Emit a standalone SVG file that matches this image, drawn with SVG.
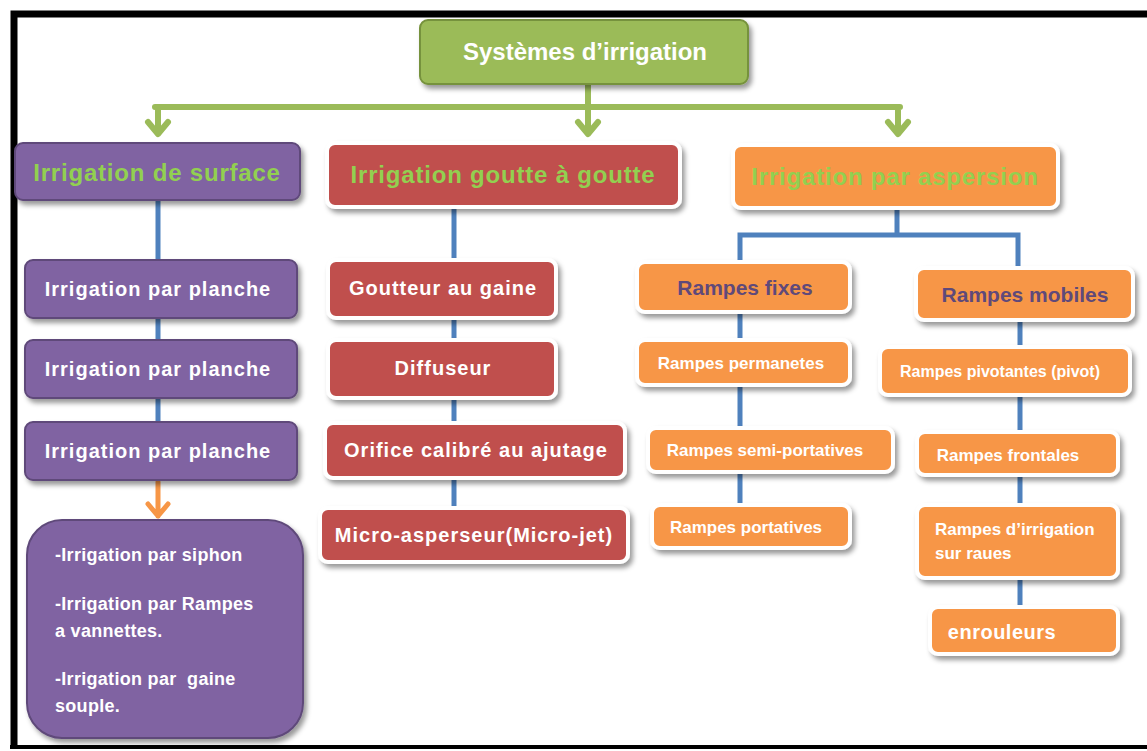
<svg xmlns="http://www.w3.org/2000/svg" width="1147" height="751" viewBox="0 0 1147 751">
<defs>
<filter id="sh" x="-10%" y="-20%" width="130%" height="150%">
<feDropShadow dx="3" dy="4" stdDeviation="2.5" flood-color="#000" flood-opacity="0.4"/>
</filter>
</defs>
<style>
text{font-family:"Liberation Sans",Arial,sans-serif;font-weight:bold;text-anchor:middle;}
.pu rect{fill:#8064a2;stroke:#5f497a;stroke-width:2;filter:url(#sh);}
.re rect{fill:#c0504d;stroke:#fff;stroke-width:4;filter:url(#sh);}
.or rect{fill:#f79646;stroke:#fff;stroke-width:4;filter:url(#sh);}
.gr rect{fill:#9bbb59;stroke:#76923c;stroke-width:2;filter:url(#sh);}
.w{fill:#fff;font-size:20px;letter-spacing:1px;}
.ws{fill:#fff;font-size:17px;}
.wl{fill:#fff;font-size:18px;letter-spacing:0.3px;text-anchor:start;}
.h{fill:#92d050;font-size:24px;letter-spacing:0.8px;}
.dp{fill:#5f497a;font-size:21px;}
.blue{stroke:#4f81bd;stroke-width:5;fill:none;}
.grn{stroke:#9bbb59;stroke-width:6;fill:none;stroke-linecap:round;stroke-linejoin:round;}
.org{stroke:#f79646;stroke-width:5;fill:none;stroke-linecap:round;stroke-linejoin:round;}
</style>
<rect width="1147" height="751" fill="#fff"/>
<path d="M14 747 V14 H1150" fill="none" stroke="#000" stroke-width="7"/>
<line x1="10" y1="747" x2="1147" y2="747" stroke="#000" stroke-width="4"/>

<g id="connectors">
<path class="grn" d="M588 84 V107 M155 107 H900 M158 107 V133 M588 107 V133 M898 107 V133"/>
<path class="grn" d="M148 122 L158 134 L168 122 M578 122 L588 134 L598 122 M888 122 L898 134 L908 122"/>
<path class="blue" d="M158 200 V260 M158 318 V340 M158 398 V422"/>
<path class="org" d="M158 482 V516 M148 504 L158 516 L168 504"/>
<path class="blue" d="M454 207 V260 M454 318 V340 M454 398 V423 M454 478 V508"/>
<path class="blue" d="M897 208 V235 M740 262 V235 H1018 V268"/>
<path class="blue" d="M740 312 V340 M740 385 V428 M740 472 V505"/>
<path class="blue" d="M1020 320 V347 M1020 395 V432 M1020 475 V505 M1020 578 V607"/>
</g>

<g id="n-root" class="gr"><rect x="420" y="20" width="328" height="64" rx="8"/><text x="585" y="60" fill="#fff" font-size="24">Systèmes d’irrigation</text></g>

<g id="n-surface" class="pu"><rect x="15" y="143" width="285" height="57" rx="8"/><text class="h" x="157" y="181">Irrigation de surface</text></g>
<g id="n-goutte" class="re"><rect x="327" y="143" width="353" height="64" rx="8"/><text class="h" x="503" y="183">Irrigation goutte à goutte</text></g>
<g id="n-asp" class="or"><rect x="733" y="145" width="325" height="63" rx="8"/><text class="h" x="895" y="185">Irrigation par aspersion</text></g>

<g id="n-p1" class="pu"><rect x="25" y="260" width="272" height="58" rx="8"/><text class="w" x="158" y="296">Irrigation par planche</text></g>
<g id="n-p2" class="pu"><rect x="25" y="340" width="272" height="58" rx="8"/><text class="w" x="158" y="376">Irrigation par planche</text></g>
<g id="n-p3" class="pu"><rect x="25" y="422" width="272" height="58" rx="8"/><text class="w" x="158" y="458">Irrigation par planche</text></g>
<g id="n-list" class="pu"><rect x="27" y="520" width="276" height="218" rx="35"/>
<text class="wl" x="55" y="561">-Irrigation par siphon</text>
<text class="wl" x="55" y="610">-Irrigation par Rampes</text>
<text class="wl" x="55" y="637">a vannettes.</text>
<text class="wl" x="55" y="685" xml:space="preserve">-Irrigation par  gaine</text>
<text class="wl" x="55" y="712">souple.</text>
</g>

<g id="n-g1" class="re"><rect x="328" y="260" width="228" height="58" rx="8"/><text class="w" x="443" y="295">Goutteur au gaine</text></g>
<g id="n-g2" class="re"><rect x="328" y="340" width="228" height="58" rx="8"/><text class="w" x="443" y="375">Diffuseur</text></g>
<g id="n-g3" class="re"><rect x="325" y="423" width="300" height="55" rx="8"/><text class="w" x="476" y="457">Orifice calibré au ajutage</text></g>
<g id="n-g4" class="re"><rect x="320" y="508" width="308" height="54" rx="8"/><text class="w" x="474" y="542">Micro-asperseur(Micro-jet)</text></g>

<g id="n-fixes" class="or"><rect x="637" y="262" width="213" height="50" rx="8"/><text class="dp" x="745" y="295">Rampes fixes</text></g>
<g id="n-mobiles" class="or"><rect x="916" y="268" width="217" height="52" rx="8"/><text class="dp" x="1025" y="302">Rampes mobiles</text></g>
<g id="n-perm" class="or"><rect x="637" y="340" width="213" height="45" rx="8"/><text class="ws" x="741" y="369">Rampes permanetes</text></g>
<g id="n-pivot" class="or"><rect x="880" y="347" width="250" height="48" rx="8"/><text class="ws" x="1000" y="377" style="font-size:16px">Rampes pivotantes (pivot)</text></g>
<g id="n-semi" class="or"><rect x="648" y="428" width="245" height="44" rx="8"/><text class="ws" x="765" y="456">Rampes semi-portatives</text></g>
<g id="n-front" class="or"><rect x="917" y="432" width="201" height="43" rx="8"/><text class="ws" x="1008" y="461">Rampes frontales</text></g>
<g id="n-port" class="or"><rect x="652" y="505" width="198" height="43" rx="8"/><text class="ws" x="746" y="533">Rampes portatives</text></g>
<g id="n-roues" class="or"><rect x="917" y="505" width="201" height="73" rx="8"/>
<text class="ws" x="935" y="535" style="text-anchor:start">Rampes d’irrigation</text>
<text class="ws" x="935" y="559" style="text-anchor:start">sur raues</text></g>
<g id="n-enr" class="or"><rect x="930" y="607" width="188" height="47" rx="8"/><text class="w" x="1002" y="639" style="font-size:20px;letter-spacing:0.5px">enrouleurs</text></g>
</svg>
